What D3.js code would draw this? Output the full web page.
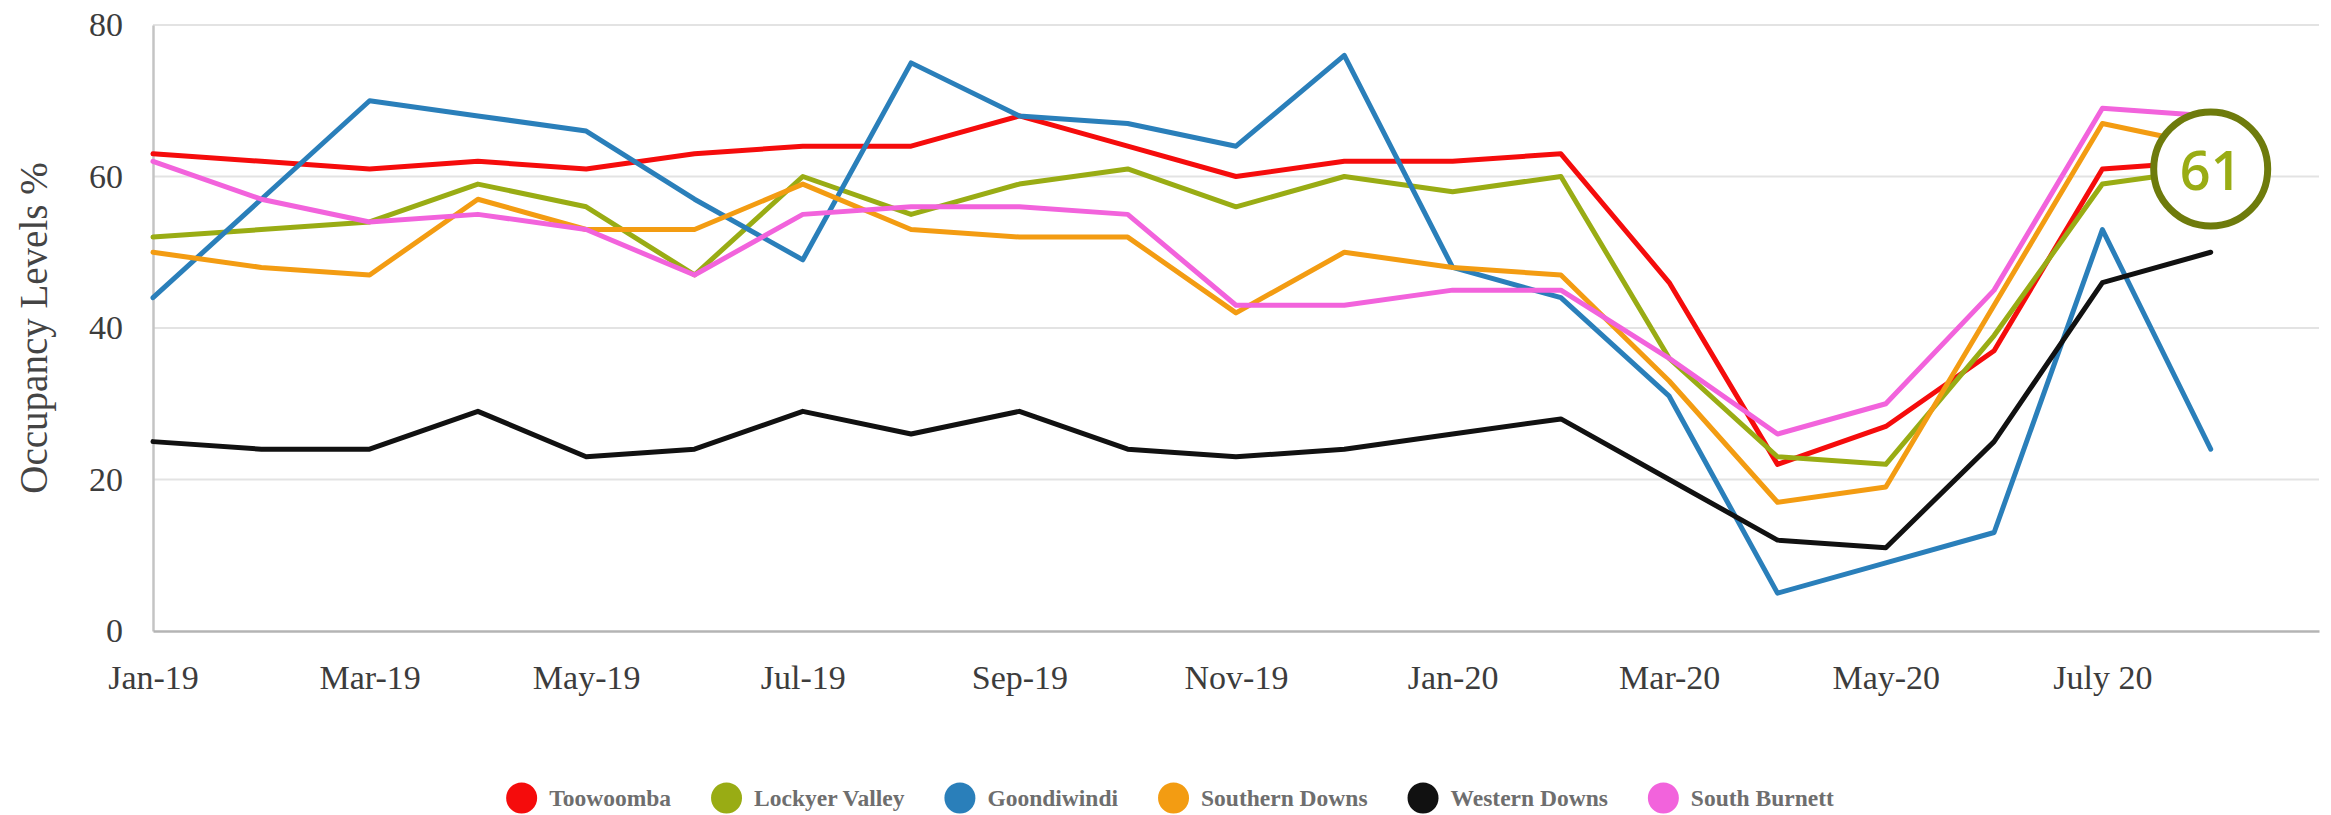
<!DOCTYPE html>
<html>
<head>
<meta charset="utf-8">
<script src="https://cdn.jsdelivr.net/npm/d3@7"></script>
<style>
  body { margin: 0; background: #fff; }
  svg { display: block; }
</style>
</head>
<body>
<div id="chart"></div>
<script>
// month slots on the x axis (last one is empty space at the right)
const months = ["Jan-19","Feb-19","Mar-19","Apr-19","May-19","Jun-19","Jul-19","Aug-19","Sep-19","Oct-19","Nov-19","Dec-19",
  "Jan-20","Feb-20","Mar-20","Apr-20","May-20","Jun-20","July 20","Aug-20","Sep-20"];
const tickLabels = ["Jan-19","Mar-19","May-19","Jul-19","Sep-19","Nov-19","Jan-20","Mar-20","May-20","July 20"];
const yTicks = [0, 20, 40, 60, 80];

const regions = ["Toowoomba","Lockyer Valley","Goondiwindi","Southern Downs","Western Downs","South Burnett"];
const colors = ["#f50c0c","#99ac14","#2a7fba","#f39c12","#111111","#f263dc"];

// occupancy % per month, Jan-19 .. Aug-20
const toowoomba     = [63,62,61,62,61,63,64,64,68,64,60,62,62,63,46,22,27,37,61,62];
const lockyerValley = [52,53,54,59,56,47,60,55,59,61,56,60,58,60,36,23,22,39,59,61];
const goondiwindi   = [44,57,70,68,66,57,49,75,68,67,64,76,48,44,31,5,9,13,53,24];
const southernDowns = [50,48,47,57,53,53,59,53,52,52,42,50,48,47,33,17,19,43,67,64];
const westernDowns  = [25,24,24,29,23,24,29,26,29,24,23,24,26,28,20,12,11,25,46,50];
const southBurnett  = [62,57,54,55,53,47,55,56,56,55,43,43,45,45,36,26,30,45,69,68];

const seriesValues = [toowoomba, lockyerValley, goondiwindi, southernDowns, westernDowns, southBurnett];

// callout on the last Lockyer Valley point
const calloutSeries = 1;
const calloutIndex = 19;

const width = 2331, height = 815;
const margin = { left: 153, right: 12, top: 25, bottom: 184 };

const svg = d3.select("#chart").append("svg")
  .attr("width", width)
  .attr("height", height);

const xScale = d3.scalePoint()
  .domain(months)
  .range([margin.left, width - margin.right]);

const yScale = d3.scaleLinear()
  .domain([0, 80])
  .range([height - margin.bottom, margin.top]);

// gridlines
svg.append("g")
  .selectAll("line")
  .data(yTicks.filter(d => d > 0))
  .join("line")
  .attr("x1", margin.left)
  .attr("x2", width - margin.right)
  .attr("y1", d => yScale(d))
  .attr("y2", d => yScale(d))
  .attr("stroke", "#e3e3e3")
  .attr("stroke-width", 2);

// y axis
const yAxis = svg.append("g")
  .attr("transform", `translate(${margin.left},0)`)
  .call(d3.axisLeft(yScale).tickValues(yTicks).tickSize(0).tickPadding(30));
yAxis.select(".domain").attr("stroke", "#c4c4c4").attr("stroke-width", 2.5);
yAxis.selectAll("text")
  .attr("font-family", "'Liberation Serif', 'Times New Roman', serif")
  .attr("font-size", 34)
  .attr("fill", "#3c3c3c");

// x axis
const xAxis = svg.append("g")
  .attr("transform", `translate(0,${yScale(0)})`)
  .call(d3.axisBottom(xScale)
    .tickValues(months.filter((m, i) => i % 2 === 0 && i <= 18))
    .tickFormat((m, i) => tickLabels[i])
    .tickSize(0).tickPadding(34));
xAxis.select(".domain").attr("stroke", "#b4b4b4").attr("stroke-width", 2.7);
xAxis.selectAll("text")
  .attr("font-family", "'Liberation Serif', 'Times New Roman', serif")
  .attr("font-size", 34)
  .attr("fill", "#3c3c3c");

// y axis title
svg.append("text")
  .text("Occupancy Levels %")
  .attr("transform", `translate(47,${(yScale(0) + yScale(80)) / 2}) rotate(-90)`)
  .attr("text-anchor", "middle")
  .attr("font-family", "'Liberation Serif', 'Times New Roman', serif")
  .attr("font-size", 39)
  .attr("fill", "#444");

// lines
const line = d3.line()
  .x((d, i) => xScale(months[i]))
  .y(d => yScale(d));

svg.append("g")
  .selectAll("path")
  .data(seriesValues)
  .join("path")
  .attr("d", d => line(d))
  .attr("fill", "none")
  .attr("stroke", (d, i) => colors[i])
  .attr("stroke-width", 5)
  .attr("stroke-linejoin", "round")
  .attr("stroke-linecap", "round");

// callout circle
const cx = xScale(months[calloutIndex]);
const cy = yScale(seriesValues[calloutSeries][calloutIndex]);
svg.append("circle")
  .attr("cx", cx)
  .attr("cy", cy)
  .attr("r", 57)
  .attr("fill", "#fff")
  .attr("stroke", "#6e7b0c")
  .attr("stroke-width", 7);
svg.append("text")
  .text(seriesValues[calloutSeries][calloutIndex])
  .attr("x", cx)
  .attr("y", cy)
  .attr("text-anchor", "middle")
  .attr("dominant-baseline", "central")
  .attr("font-family", "'Open Sans', 'Noto Sans', sans-serif")
  .attr("font-weight", 600)
  .attr("font-size", 54)
  .attr("fill", "#99ac14");

// legend
const legend = svg.append("g");
const legendY = 798;
const r = 15.5;
const items = legend.selectAll("g")
  .data(regions)
  .join("g");
items.append("circle")
  .attr("r", r)
  .attr("cy", legendY)
  .attr("fill", (d, i) => colors[i]);
items.append("text")
  .text(d => d)
  .attr("y", legendY)
  .attr("dominant-baseline", "central")
  .attr("font-family", "'Liberation Serif', 'Times New Roman', serif")
  .attr("font-weight", "bold")
  .attr("font-size", 23.5)
  .attr("fill", "#6e6e6e");

let pos = 0;
const gap = 40;
const offsets = [];
items.each(function () {
  const w = d3.select(this).select("text").node().getComputedTextLength();
  offsets.push(pos);
  pos += 2 * r + 12 + w + gap;
});
const total = pos - gap;
const start = 1170 - total / 2;
items.each(function (d, i) {
  const g = d3.select(this);
  g.select("circle").attr("cx", start + offsets[i] + r);
  g.select("text").attr("x", start + offsets[i] + 2 * r + 12);
});
</script>
</body>
</html>
